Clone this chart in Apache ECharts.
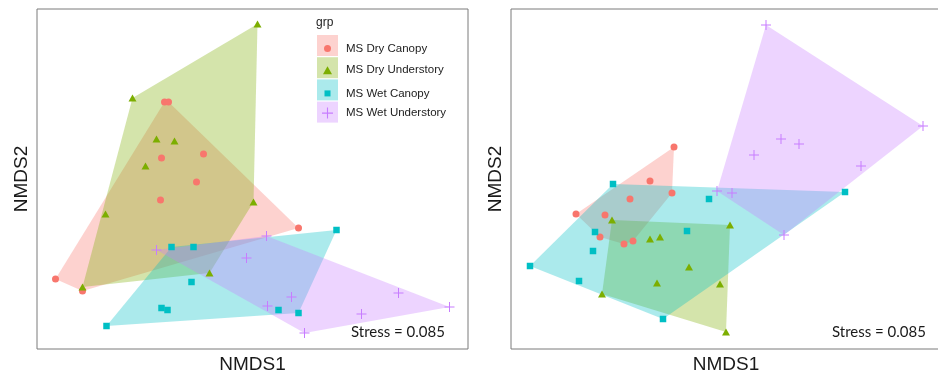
<!DOCTYPE html>
<html><head><meta charset="utf-8">
<script src="https://cdn.jsdelivr.net/npm/echarts@6/dist/echarts.min.js"></script>
<style>html,body{margin:0;padding:0;background:#fff}#c{width:938px;height:374px}</style>
</head><body><div id="c"></div>
<script>
// ---------- data (NMDS1, NMDS2) ----------
const groups = ['MS Dry Canopy', 'MS Dry Understory', 'MS Wet Canopy', 'MS Wet Understory'];
const colors = ['#F8766D', '#7CAE00', '#00BFC4', '#C77CFF'];
const stressLabel = 'Stress = 0.085';

// Left panel
const L_dryCanopy = [[-0.88,0.77],[-0.84,0.77],[-0.91,0.21],[-0.49,0.25],[-0.56,-0.03],[-0.92,-0.21],[0.46,-0.49],[-1.97,-1.00],[-1.70,-1.12]];
const L_dryUnder  = [[0.05,1.55],[-1.20,0.81],[-0.96,0.40],[-0.78,0.38],[-1.07,0.13],[0.01,-0.23],[-1.47,-0.35],[-0.43,-0.94],[-1.70,-1.08]];
const L_wetCanopy = [[0.84,-0.51],[-0.81,-0.68],[-0.59,-0.68],[-0.61,-1.03],[-0.91,-1.29],[-0.85,-1.31],[0.26,-1.31],[0.46,-1.34],[-1.46,-1.47]];
const L_wetUnder  = [[-0.96,-0.71],[0.14,-0.57],[-0.06,-0.79],[0.39,-1.18],[0.15,-1.27],[1.46,-1.14],[1.97,-1.28],[1.09,-1.35],[0.52,-1.54]];

// Right panel
const R_dryCanopy = [[-0.51,0.32],[-0.75,-0.02],[-0.53,-0.14],[-0.95,-0.20],[-1.49,-0.35],[-1.20,-0.36],[-1.25,-0.58],[-1.01,-0.65],[-0.92,-0.62]];
const R_dryUnder  = [[-1.13,-0.41],[0.05,-0.46],[-0.75,-0.60],[-0.65,-0.58],[-0.36,-0.88],[-0.68,-1.04],[-0.05,-1.05],[-1.23,-1.15],[0.01,-1.53]];
const R_wetCanopy = [[-1.12,-0.05],[-0.16,-0.20],[1.20,-0.13],[-0.38,-0.52],[-1.30,-0.53],[-1.32,-0.72],[-1.95,-0.87],[-1.46,-1.02],[-0.62,-1.40]];
const R_wetUnder  = [[0.41,1.54],[1.98,0.53],[0.56,0.40],[0.74,0.35],[0.29,0.24],[1.36,0.13],[-0.08,-0.12],[0.07,-0.14],[0.59,-0.56]];

const panels = [
  [L_dryCanopy, L_dryUnder, L_wetCanopy, L_wetUnder],
  [R_dryCanopy, R_dryUnder, R_wetCanopy, R_wetUnder]
];

// ---------- helpers ----------
function hull(pts) {
  const p = pts.slice().sort((a, b) => a[0] - b[0] || a[1] - b[1]);
  const cross = (o, a, b) => (a[0]-o[0])*(b[1]-o[1]) - (a[1]-o[1])*(b[0]-o[0]);
  const lower = [], upper = [];
  for (const q of p) { while (lower.length >= 2 && cross(lower[lower.length-2], lower[lower.length-1], q) <= 0) lower.pop(); lower.push(q); }
  for (let i = p.length - 1; i >= 0; i--) { const q = p[i]; while (upper.length >= 2 && cross(upper[upper.length-2], upper[upper.length-1], q) <= 0) upper.pop(); upper.push(q); }
  upper.pop(); lower.pop();
  return lower.concat(upper);
}
function rgba(hex, a) {
  const n = parseInt(hex.slice(1), 16);
  return 'rgba(' + (n >> 16) + ',' + ((n >> 8) & 255) + ',' + (n & 255) + ',' + a + ')';
}
const FILL_A = 0.33;
const symbols = ['circle', 'triangle', 'rect', 'path://M0,4.5H10V5.5H0Z M4.5,0H5.5V10H4.5Z'];
const symSizes = [7, [8, 7], 6.5, 10];
const legendSizes = [[7,7],[9,8],[6,6],[11,11]];

const series = [];
panels.forEach((pan, pi) => {
  pan.forEach((pts, gi) => {
    const h = hull(pts);
    series.push({
      type: 'custom', name: 'hull-' + pi + '-' + gi, xAxisIndex: pi, yAxisIndex: pi,
      silent: true, z: 1, data: h,
      renderItem: function (params, api) {
        if (params.dataIndex !== 0) return null;
        return { type: 'polygon', shape: { points: h.map(q => api.coord(q)) },
          style: { fill: rgba(colors[gi], FILL_A), stroke: null } };
      }
    });
  });
});
panels.forEach((pan, pi) => {
  pan.forEach((pts, gi) => {
    series.push({
      type: 'scatter', name: groups[gi], xAxisIndex: pi, yAxisIndex: pi, z: 3,
      symbol: symbols[gi], symbolSize: symSizes[gi], data: pts,
      itemStyle: { color: colors[gi], opacity: 1 }
    });
  });
});

const axisCommon = {
  axisLine: { show: false }, axisTick: { show: false }, axisLabel: { show: false }, splitLine: { show: false },
  nameLocation: 'middle',
  nameTextStyle: { fontFamily: 'Liberation Sans', fontSize: 19, color: '#1a1a1a' }
};

const legendTop0 = 46, legendStep = 22.2;
const legends = groups.map((g, i) => ({
  data: [g], orient: 'vertical', left: 327.5 - legendSizes[i][0] / 2,
  top: legendTop0 + legendStep * i - legendSizes[i][1] / 2, padding: 0,
  itemWidth: legendSizes[i][0], itemHeight: legendSizes[i][1], selectedMode: false,
  textStyle: { fontFamily: 'Liberation Sans', fontSize: 11.5, color: '#222',
    padding: [0, 0, 0, 18.5 - legendSizes[i][0] / 2 - 5 + 0] }
}));

const graphics = [
  { type: 'text', left: 316, top: 17, z: 5, style: { text: 'grp', font: '12px "Liberation Sans"', fill: '#222' } },
  { type: 'text', x: 351, y: 332, z: 5, style: { text: stressLabel, font: '15px Lato', fill: '#1a1a1a', verticalAlign: 'middle' } },
  { type: 'text', x: 832, y: 332, z: 5, style: { text: stressLabel, font: '15px Lato', fill: '#1a1a1a', verticalAlign: 'middle' } }
];
groups.forEach((g, i) => {
  graphics.push({ type: 'rect', z: -1, shape: { x: 317, y: 35 + legendStep * i, width: 21, height: 21 },
    style: { fill: rgba(colors[i], FILL_A) } });
});

const chart = echarts.init(document.getElementById('c'), null, { renderer: 'canvas' });
chart.setOption({
  animation: false,
  backgroundColor: '#fff',
  grid: [
    { left: 37, top: 9, width: 431, height: 340, show: true, borderColor: '#7a7a7a', borderWidth: 1, backgroundColor: 'transparent', containLabel: false, outerBoundsMode: 'none' },
    { left: 511, top: 9, width: 430, height: 340, show: true, borderColor: '#7a7a7a', borderWidth: 1, backgroundColor: 'transparent', containLabel: false, outerBoundsMode: 'none' }
  ],
  xAxis: [
    Object.assign({ gridIndex: 0, type: 'value', min: -2.155, max: 2.155, name: 'NMDS1', nameGap: 6 }, axisCommon),
    Object.assign({ gridIndex: 1, type: 'value', min: -2.14, max: 2.16, name: 'NMDS1', nameGap: 6 }, axisCommon)
  ],
  yAxis: [
    Object.assign({ gridIndex: 0, type: 'value', min: -1.7, max: 1.7, name: 'NMDS2', nameGap: 6 }, axisCommon),
    Object.assign({ gridIndex: 1, type: 'value', min: -1.7, max: 1.7, name: 'NMDS2', nameGap: 6 }, axisCommon)
  ],
  legend: legends,
  graphic: graphics,
  series: series
});
</script></body></html>
